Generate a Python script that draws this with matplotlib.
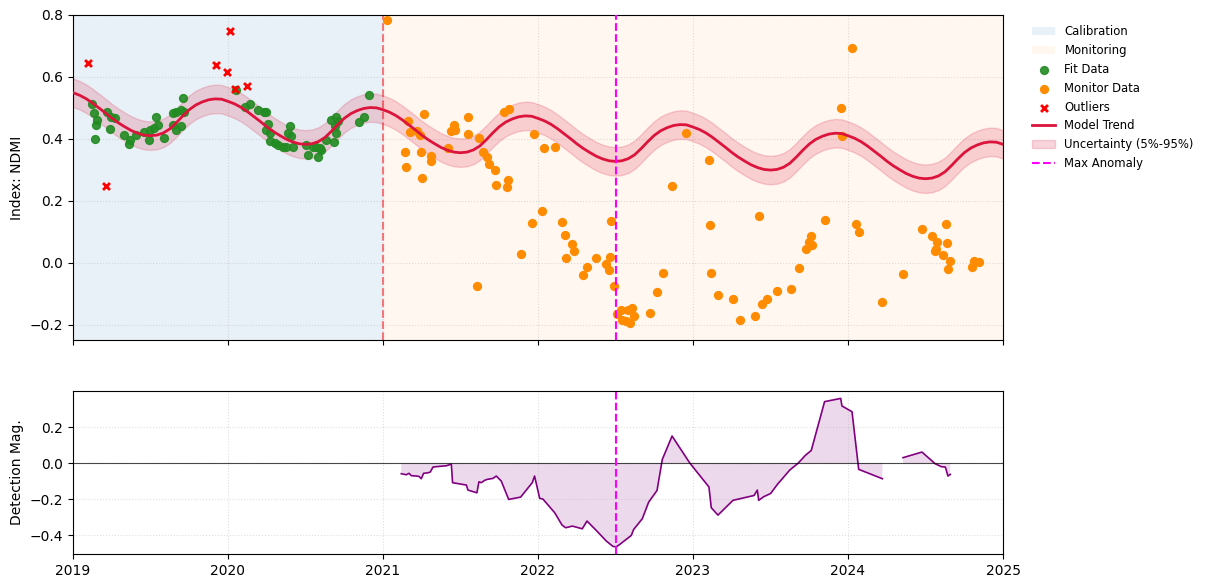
import numpy as np
import matplotlib
matplotlib.use("Agg")
import matplotlib.pyplot as plt

# calibration fit data (decimal year, NDMI)
fit_t = [2019.125, 2019.133, 2019.157, 2019.151, 2019.144, 2019.222, 2019.247, 2019.273,
         2019.241, 2019.329, 2019.366, 2019.361, 2019.409, 2019.458, 2019.490, 2019.499,
         2019.523, 2019.538, 2019.548, 2019.587, 2019.645, 2019.667, 2019.645, 2019.667,
         2019.699, 2019.710, 2019.716, 2019.695,
         2020.049, 2020.108, 2020.144, 2020.194, 2020.230, 2020.247, 2020.258, 2020.243,
         2020.269, 2020.269, 2020.301, 2020.323, 2020.355, 2020.387, 2020.398, 2020.409,
         2020.376, 2020.419, 2020.505, 2020.516, 2020.548, 2020.581, 2020.591, 2020.602,
         2020.570, 2020.634, 2020.682, 2020.667, 2020.699, 2020.710, 2020.688, 2020.699,
         2020.845, 2020.877, 2020.910]
fit_v = [0.512, 0.483, 0.461, 0.443, 0.399, 0.488, 0.472, 0.467,
         0.431, 0.413, 0.397, 0.383, 0.411, 0.421, 0.397, 0.429,
         0.434, 0.472, 0.445, 0.402, 0.483, 0.488, 0.445, 0.429,
         0.440, 0.533, 0.488, 0.494,
         0.558, 0.504, 0.512, 0.494, 0.488, 0.486, 0.447, 0.427,
         0.418, 0.394, 0.386, 0.381, 0.375, 0.418, 0.440, 0.408,
         0.372, 0.375, 0.381, 0.348, 0.372, 0.340, 0.370, 0.365,
         0.375, 0.397, 0.389, 0.461, 0.469, 0.456, 0.440, 0.418,
         0.454, 0.472, 0.542]

outlier_t = [2019.097, 2019.215, 2019.925, 2020.015, 2019.996, 2020.043, 2020.123]
outlier_v = [0.644, 0.246, 0.639, 0.748, 0.615, 0.561, 0.571]

# monitoring period observations
mon_t = [2021.026, 2021.144, 2021.151, 2021.161, 2021.172, 2021.219, 2021.241, 2021.247,
         2021.254, 2021.265, 2021.308, 2021.312, 2021.419, 2021.441, 2021.456, 2021.462,
         2021.548, 2021.551, 2021.609, 2021.619, 2021.645, 2021.673, 2021.684, 2021.725,
         2021.731, 2021.781, 2021.813, 2021.806, 2021.802, 2021.892, 2021.963, 2021.974,
         2022.028, 2022.039, 2022.112, 2022.157, 2022.176, 2022.183, 2022.222, 2022.234,
         2022.292, 2022.318, 2022.376, 2022.441, 2022.456, 2022.467, 2022.473, 2022.490,
         2022.512, 2022.533, 2022.544, 2022.570, 2022.591, 2022.581, 2022.609, 2022.617,
         2022.723, 2022.770, 2022.809, 2022.867, 2022.957,
         2023.103, 2023.112, 2023.118, 2023.161, 2023.258, 2023.301, 2023.402, 2023.424,
         2023.447, 2023.477, 2023.544, 2023.634, 2023.684, 2023.731, 2023.746, 2023.763,
         2023.770, 2023.854, 2023.957, 2023.961, 2024.028, 2024.054, 2024.071, 2024.222,
         2024.355, 2024.477, 2024.542, 2024.576, 2024.566, 2024.563, 2024.613, 2024.634,
         2024.641, 2024.647, 2024.660, 2024.802, 2024.813, 2024.845]
mon_v = [0.784, 0.356, 0.309, 0.458, 0.421, 0.426, 0.411, 0.356,
         0.273, 0.480, 0.343, 0.327, 0.370, 0.424, 0.445, 0.429,
         0.472, 0.415, -0.074, 0.402, 0.356, 0.341, 0.319, 0.300,
         0.252, 0.488, 0.496, 0.268, 0.244, 0.029, 0.128, 0.416,
         0.168, 0.370, 0.373, 0.131, 0.090, 0.015, 0.061, 0.039,
         -0.039, -0.014, 0.015, -0.006, -0.023, 0.018, 0.133, -0.074,
         -0.165, -0.154, -0.184, -0.189, -0.195, -0.154, -0.148, -0.173,
         -0.162, -0.095, -0.033, 0.247, 0.418,
         0.332, 0.123, -0.033, -0.106, -0.116, -0.187, -0.171, 0.152,
         -0.133, -0.119, -0.092, -0.085, -0.019, 0.044, 0.067, 0.087,
         0.058, 0.139, 0.499, 0.408, 0.692, 0.125, 0.099, -0.127,
         -0.037, 0.109, 0.085, 0.067, 0.044, 0.037, 0.023, 0.125,
         0.063, -0.020, 0.004, -0.014, 0.004, 0.002]

# model trend, sampled twice a month 2019.0 .. 2025.0
trend_t = np.linspace(2019, 2025, 145)
trend_v = [
    0.549, 0.541, 0.530, 0.516, 0.500, 0.484, 0.467, 0.452, 0.439, 0.427, 0.418, 0.412,
    0.410, 0.412, 0.419, 0.432, 0.452, 0.474, 0.494, 0.509, 0.519, 0.526, 0.529, 0.528,
    0.521, 0.513, 0.502, 0.488, 0.472, 0.456, 0.439, 0.424, 0.411, 0.399, 0.390, 0.384,
    0.382, 0.384, 0.391, 0.404, 0.424, 0.446, 0.466, 0.481, 0.491, 0.498, 0.501, 0.500,
    0.494, 0.486, 0.475, 0.461, 0.445, 0.429, 0.412, 0.397, 0.384, 0.372, 0.363, 0.357,
    0.355, 0.357, 0.364, 0.377, 0.397, 0.419, 0.439, 0.454, 0.464, 0.471, 0.474, 0.473,
    0.466, 0.458, 0.447, 0.433, 0.417, 0.401, 0.384, 0.369, 0.356, 0.344, 0.335, 0.329,
    0.327, 0.329, 0.336, 0.349, 0.369, 0.391, 0.411, 0.426, 0.436, 0.443, 0.446, 0.445,
    0.438, 0.430, 0.419, 0.405, 0.389, 0.373, 0.356, 0.341, 0.328, 0.316, 0.307, 0.301,
    0.299, 0.301, 0.308, 0.321, 0.341, 0.363, 0.383, 0.398, 0.408, 0.415, 0.418, 0.417,
    0.410, 0.402, 0.391, 0.377, 0.361, 0.345, 0.328, 0.313, 0.300, 0.288, 0.279, 0.273,
    0.271, 0.273, 0.280, 0.293, 0.313, 0.335, 0.355, 0.370, 0.380, 0.387, 0.390, 0.389,
    0.382]
band_half = 0.046

# detection magnitude (NaN = gap)
det_t = [2021.118, 2021.140, 2021.150, 2021.168, 2021.183, 2021.215, 2021.232, 2021.247,
         2021.262, 2021.290, 2021.305, 2021.323, 2021.344, 2021.409, 2021.441, 2021.449,
         2021.538, 2021.548, 2021.606, 2021.619, 2021.634, 2021.656, 2021.671, 2021.710,
         2021.731, 2021.763, 2021.811, 2021.888, 2021.963, 2021.978, 2022.011, 2022.032,
         2022.108, 2022.155, 2022.178, 2022.194, 2022.222, 2022.286, 2022.316, 2022.376,
         2022.441, 2022.484, 2022.505, 2022.527, 2022.602, 2022.617, 2022.673, 2022.714,
         2022.768, 2022.802, 2022.865, 2022.978, 2023.000, 2023.103, 2023.118, 2023.161,
         2023.258, 2023.394, 2023.415, 2023.424, 2023.456, 2023.501, 2023.544, 2023.624,
         2023.677, 2023.725, 2023.763, 2023.849, 2023.953, 2023.961, 2024.026, 2024.069,
         2024.222, 2024.290, 2024.355, 2024.477, 2024.563, 2024.602, 2024.628, 2024.645,
         2024.660]
det_v = [-0.059, -0.063, -0.065, -0.057, -0.070, -0.072, -0.074, -0.087,
         -0.057, -0.054, -0.050, -0.022, -0.020, -0.015, -0.006, -0.109,
         -0.122, -0.150, -0.165, -0.104, -0.109, -0.096, -0.091, -0.085,
         -0.072, -0.100, -0.202, -0.189, -0.109, -0.072, -0.196, -0.200,
         -0.276, -0.344, -0.359, -0.356, -0.350, -0.365, -0.322, -0.374,
         -0.433, -0.463, -0.465, -0.452, -0.402, -0.369, -0.309, -0.217,
         -0.152, 0.020, 0.150, 0.002, -0.022, -0.133, -0.248, -0.289,
         -0.207, -0.180, -0.150, -0.207, -0.187, -0.169, -0.119, -0.039,
         -0.002, 0.043, 0.070, 0.341, 0.359, 0.317, 0.285, -0.035,
         -0.087, np.nan, 0.030, 0.061, -0.004, -0.020, -0.022, -0.072,
         -0.063]

calib_start, calib_end, mon_end = 2019.0, 2021.0, 2025.0
max_anomaly_t = 2022.503

fig = plt.figure(figsize=(12.08, 5.88), dpi=100)
ax1 = fig.add_axes([0.0604, 0.4218, 0.7699, 0.5527])
ax2 = fig.add_axes([0.0604, 0.0578, 0.7699, 0.2772], sharex=ax1)

# top panel
ax1.axvspan(calib_start, calib_end, color='tab:blue', alpha=0.1, lw=0, label='Calibration')
ax1.axvspan(calib_end, mon_end, color='tab:orange', alpha=0.06, lw=0, label='Monitoring')
ax1.axvline(calib_end, color='red', ls='--', lw=1.5, alpha=0.5)
ax1.scatter(fit_t, fit_v, color='forestgreen', s=32, alpha=0.9, zorder=3, label='Fit Data')
ax1.scatter(mon_t, mon_v, color='darkorange', s=32, zorder=3, label='Monitor Data')
ax1.scatter(outlier_t, outlier_v, color='red', marker='x', s=25, linewidths=2, zorder=4,
            label='Outliers')
trend_v = np.array(trend_v)
ax1.plot(trend_t, trend_v, color='crimson', lw=2, zorder=5, label='Model Trend')
ax1.fill_between(trend_t, trend_v - band_half, trend_v + band_half, color='crimson',
                 alpha=0.18, zorder=2, label='Uncertainty (5%-95%)')
ax1.axvline(max_anomaly_t, color='magenta', ls='--', lw=1.5, zorder=6, label='Max Anomaly')
ax1.set_ylim(-0.25, 0.8)
ax1.set_ylabel('Index: NDMI')
ax1.grid(True, ls=':', alpha=0.4)
ax1.tick_params(labelbottom=False)
ax1.legend(loc='upper left', bbox_to_anchor=(1.02, 1.0), frameon=False, fontsize='small')

# bottom panel
det_v = np.array(det_v)
ax2.plot(det_t, det_v, color='purple', lw=1.2)
ax2.fill_between(det_t, det_v, 0, color='purple', alpha=0.15, lw=0)
ax2.axhline(0, color='black', lw=0.8, alpha=0.7)
ax2.axvline(max_anomaly_t, color='magenta', ls='--', lw=1.5)
ax2.set_ylim(-0.505, 0.4)
ax2.set_yticks([-0.4, -0.2, 0.0, 0.2])
ax2.set_ylabel('Detection Mag.')
ax2.grid(True, ls=':', alpha=0.4)
ax2.set_xlim(2019, 2025)
ax2.set_xticks(range(2019, 2026))
ax2.set_xticklabels([str(y) for y in range(2019, 2026)])

fig.savefig('out.png', dpi=100)
